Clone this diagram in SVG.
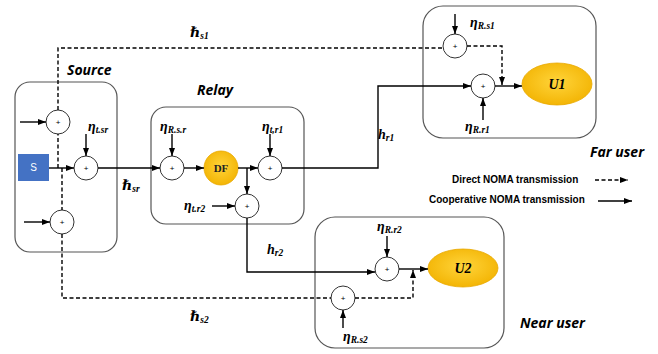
<svg xmlns="http://www.w3.org/2000/svg" width="658" height="354" viewBox="0 0 658 354">
<style>
.box{fill:none;stroke:#555;stroke-width:1.2}
.sum{fill:#fff;stroke:#333;stroke-width:1}
.plus{font-family:"Liberation Sans",Arial,sans-serif;font-size:8px;text-anchor:middle;fill:#000}
.ln{fill:none;stroke:#000;stroke-width:1.4}
.ds{fill:none;stroke:#000;stroke-width:1.4;stroke-dasharray:4,2.5}
.ttl{font-family:"Open Sans","Liberation Sans",sans-serif;font-weight:bold;font-style:italic;font-size:14px;fill:#000}
.math{font-family:"Liberation Serif","DejaVu Serif",serif;font-weight:bold;font-style:italic;font-size:14px;fill:#000}
.sub{font-size:9.5px}
.leg{font-family:"Liberation Sans",Arial,sans-serif;font-weight:bold;font-size:10px;fill:#000}
.gold{fill:url(#g);stroke:#E8A800;stroke-width:0.8}
</style>
<defs>
<radialGradient id="g" cx="0.5" cy="0.45" r="0.6">
<stop offset="0" stop-color="#FFD43A"/>
<stop offset="1" stop-color="#F2B200"/>
</radialGradient>
<marker id="a" markerUnits="userSpaceOnUse" markerWidth="8" markerHeight="6" refX="8" refY="3" orient="auto">
<path d="M0,0 L8,3 L0,6 z" fill="#000"/>
</marker>
</defs>

<g id="source">
<rect class="box" x="15" y="82" width="102" height="170" rx="15"/>
<text class="ttl" x="67" y="75">Source</text>
<rect x="18" y="154" width="31" height="27" fill="#4472C4"/>
<text x="33.5" y="171" font-family="Liberation Sans,Arial,sans-serif" font-size="10" fill="#fff" text-anchor="middle">S</text>
<circle class="sum" cx="58" cy="122" r="12"/><text class="plus" x="58" y="125">+</text>
<circle class="sum" cx="86" cy="168" r="12"/><text class="plus" x="86" y="171">+</text>
<circle class="sum" cx="62" cy="222" r="12"/><text class="plus" x="62" y="225">+</text>
<text class="math" x="88" y="131">η<tspan class="sub" dy="2">t.sr</tspan></text>
</g>

<g id="relay">
<rect class="box" x="151" y="107" width="153" height="117" rx="15"/>
<text class="ttl" x="197" y="95">Relay</text>
<circle class="sum" cx="172" cy="168" r="12"/><text class="plus" x="172" y="171">+</text>
<circle class="gold" cx="221" cy="168" r="17"/>
<text x="221" y="172" font-family="Liberation Serif,serif" font-weight="bold" font-size="11" fill="#222" text-anchor="middle">DF</text>
<circle class="sum" cx="270" cy="168" r="12"/><text class="plus" x="270" y="171">+</text>
<circle class="sum" cx="247" cy="206" r="12"/><text class="plus" x="247" y="209">+</text>
<text class="math" x="160" y="131">η<tspan class="sub" dy="2">R.s.r</tspan></text>
<text class="math" x="262" y="131">η<tspan class="sub" dy="2">t,r1</tspan></text>
<text class="math" x="184" y="210">η<tspan class="sub" dy="2">t.r2</tspan></text>
</g>

<g id="far-user">
<rect class="box" x="423" y="6" width="173" height="132" rx="20"/>
<circle class="sum" cx="455" cy="46" r="12"/><text class="plus" x="455" y="49">+</text>
<circle class="sum" cx="483" cy="86" r="12"/><text class="plus" x="483" y="89">+</text>
<ellipse class="gold" cx="557" cy="84" rx="35" ry="21"/>
<text class="math" x="557" y="89" text-anchor="middle">U1</text>
<text class="math" x="470" y="27">η<tspan class="sub" dy="2">R.s1</tspan></text>
<text class="math" x="465" y="131">η<tspan class="sub" dy="2">R.r1</tspan></text>
<text class="ttl" x="590" y="157">Far user</text>
</g>

<g id="near-user">
<rect class="box" x="315" y="217" width="189" height="131" rx="20"/>
<circle class="sum" cx="387" cy="269" r="12"/><text class="plus" x="387" y="272">+</text>
<circle class="sum" cx="343" cy="298" r="12"/><text class="plus" x="343" y="301">+</text>
<ellipse class="gold" cx="463" cy="268" rx="35" ry="19"/>
<text class="math" x="463" y="273" text-anchor="middle">U2</text>
<text class="math" x="377" y="231">η<tspan class="sub" dy="2">R.r2</tspan></text>
<text class="math" x="343" y="341">η<tspan class="sub" dy="2">R.s2</tspan></text>
<text class="ttl" x="520" y="328">Near user</text>
</g>

<g id="legend">
<text class="leg" x="452" y="183">Direct NOMA transmission</text>
<text class="leg" x="429" y="203">Cooperative NOMA transmission</text>
</g>

<g id="connectors">
<line class="ln" x1="20" y1="122" x2="46" y2="122" marker-end="url(#a)"/>
<line class="ln" x1="24" y1="222" x2="50" y2="222" marker-end="url(#a)"/>
<line class="ln" x1="49" y1="168" x2="74" y2="168" marker-end="url(#a)"/>
<line class="ln" x1="86" y1="134" x2="86" y2="156" marker-end="url(#a)"/>
<line class="ln" x1="98" y1="168" x2="160" y2="168" marker-end="url(#a)"/>
<line class="ln" x1="172" y1="134" x2="172" y2="156" marker-end="url(#a)"/>
<line class="ln" x1="184" y1="168" x2="204" y2="168" marker-end="url(#a)"/>
<line class="ln" x1="238" y1="168" x2="258" y2="168" marker-end="url(#a)"/>
<line class="ln" x1="247" y1="168" x2="247" y2="194" marker-end="url(#a)"/>
<line class="ln" x1="270" y1="134" x2="270" y2="156" marker-end="url(#a)"/>
<line class="ln" x1="212" y1="206" x2="235" y2="206" marker-end="url(#a)"/>
<path class="ln" d="M282,168 H378 V86 H471" marker-end="url(#a)"/>
<path class="ln" d="M247,218 V272 H375" marker-end="url(#a)"/>
<line class="ln" x1="399" y1="269" x2="428" y2="269" marker-end="url(#a)"/>
<line class="ln" x1="387" y1="236" x2="387" y2="257" marker-end="url(#a)"/>
<line class="ln" x1="343" y1="328" x2="343" y2="310" marker-end="url(#a)"/>
<line class="ln" x1="455" y1="14" x2="455" y2="34" marker-end="url(#a)"/>
<line class="ln" x1="483" y1="120" x2="483" y2="98" marker-end="url(#a)"/>
<line class="ln" x1="495" y1="86" x2="522" y2="86" marker-end="url(#a)"/>
<path class="ds" d="M58,168 V134"/>
<path class="ds" d="M58,110 V48 H443"/>
<path class="ds" d="M467,46 H502 V85" marker-end="url(#a)"/>
<path class="ds" d="M62,168 V210"/>
<path class="ds" d="M62,234 V298 H331"/>
<path class="ds" d="M355,298 H413 V270" marker-end="url(#a)"/>
<line class="ds" x1="595" y1="180" x2="628" y2="180" marker-end="url(#a)"/>
<line class="ln" x1="598" y1="201" x2="632" y2="201" marker-end="url(#a)"/>
<text class="math" x="190" y="37">ℏ<tspan class="sub" dy="2">s1</tspan></text>
<text class="math" x="122" y="190">ℏ<tspan class="sub" dy="2">sr</tspan></text>
<text class="math" x="378" y="139">h<tspan class="sub" dy="2">r1</tspan></text>
<text class="math" x="267" y="254">h<tspan class="sub" dy="2">r2</tspan></text>
<text class="math" x="190" y="321">ℏ<tspan class="sub" dy="2">s2</tspan></text>
</g>
</svg>
